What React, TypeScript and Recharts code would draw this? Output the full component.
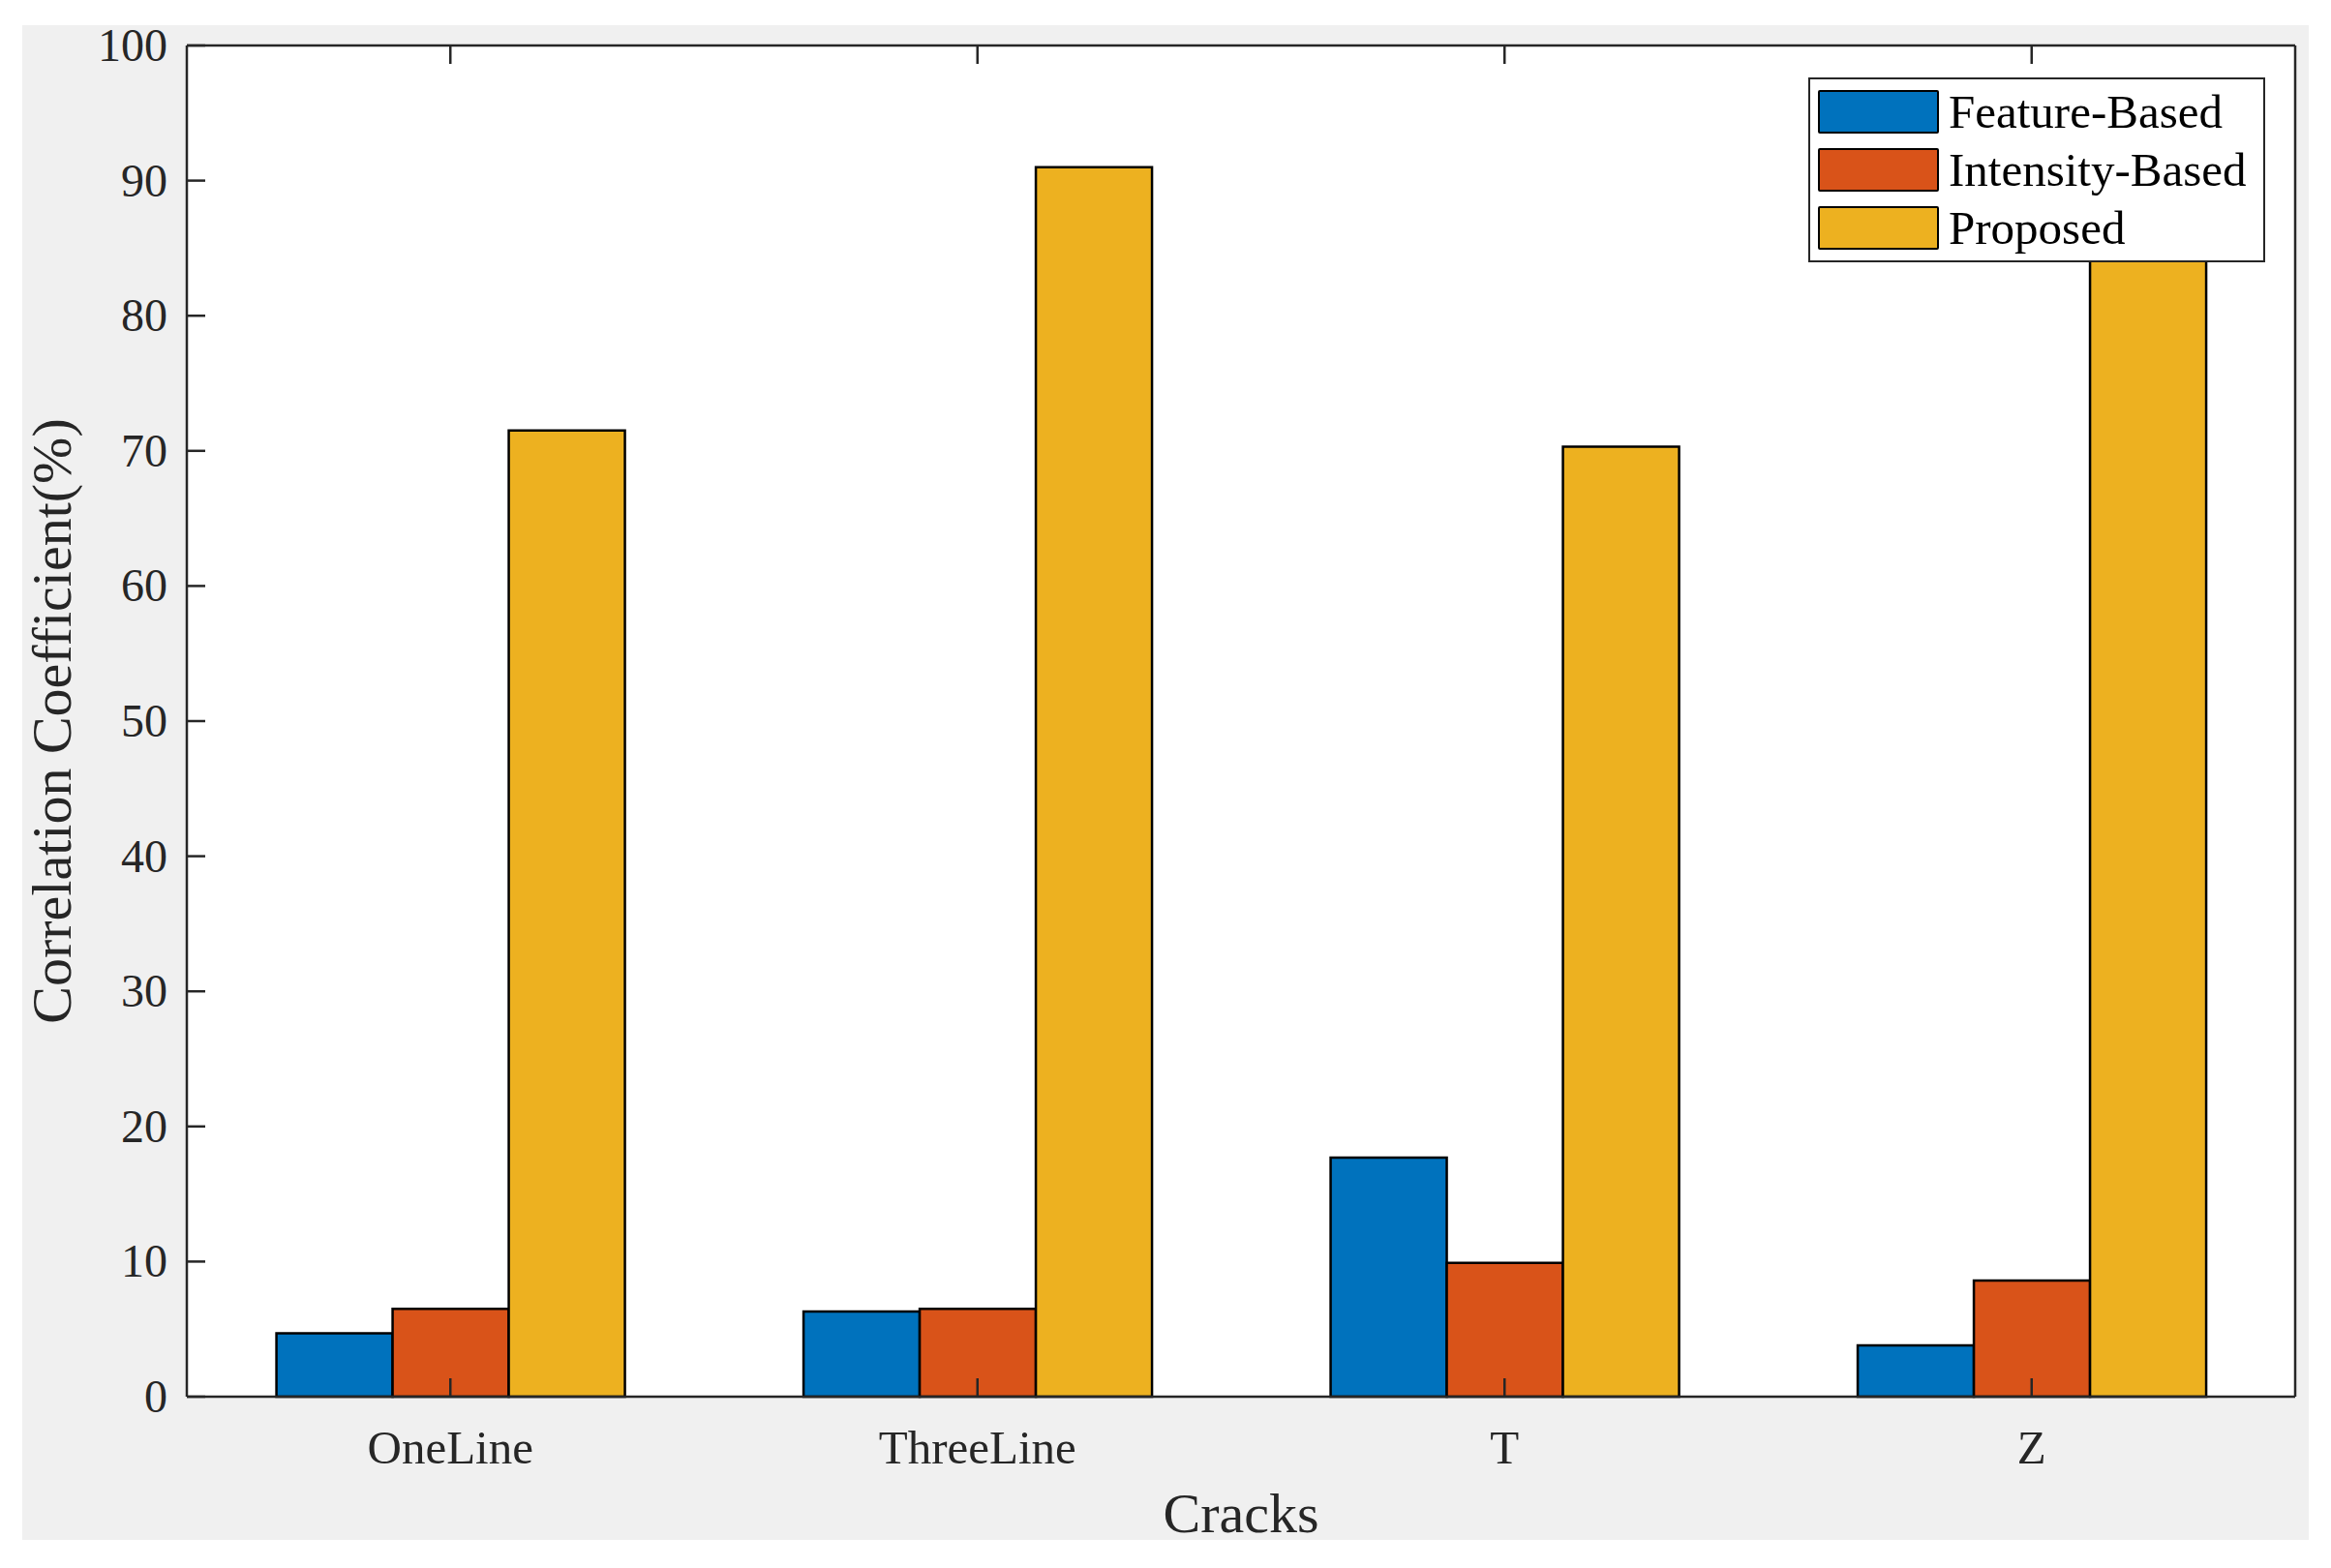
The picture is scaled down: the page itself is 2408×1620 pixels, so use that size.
import { Bar, BarChart, CartesianGrid, Legend, XAxis, YAxis } from 'recharts';

const cracks = ['OneLine', 'ThreeLine', 'T', 'Z'];
const featureBased = [4.7, 6.3, 17.7, 3.8];
const intensityBased = [6.5, 6.5, 9.9, 8.6];
const proposed = [71.5, 91.0, 70.3, 89.0];
const yTicks = [0, 10, 20, 30, 40, 50, 60, 70, 80, 90, 100];
const seriesKeys = ['featureBased', 'intensityBased', 'proposed'];
const seriesNames = ['Feature-Based', 'Intensity-Based', 'Proposed'];
const seriesColors = ['#0072BD', '#D95319', '#EDB120'];

const data = cracks.map((name, i) => ({
    name,
    featureBased: featureBased[i],
    intensityBased: intensityBased[i],
    proposed: proposed[i],
}));

const INK = '#262626';
const FONT = '"Liberation Serif", "Times New Roman", serif';
const TICK_LEN = 19;
const LINE_W = 2.5;

const BottomTick = ({ x, y, payload }: any) => (
    <g>
        <line x1={x} x2={x} y1={y} y2={y - TICK_LEN} stroke={INK} strokeWidth={LINE_W} />
        <text x={x} y={y + 69} textAnchor='middle' fontSize={49} fontFamily={FONT} fill={INK}>
            {payload.value}
        </text>
    </g>
);

const TopTick = ({ x, y }: any) => (
    <line x1={x} x2={x} y1={y} y2={y + TICK_LEN} stroke={INK} strokeWidth={LINE_W} />
);

const LeftTick = ({ x, y, payload }: any) => (
    <g>
        <line x1={x} x2={x + TICK_LEN} y1={y} y2={y} stroke={INK} strokeWidth={LINE_W} />
        <text x={x - 20} y={y + 16} textAnchor='end' fontSize={48} fontFamily={FONT} fill={INK}>
            {payload.value}
        </text>
    </g>
);

const RightTick = ({ x, y }: any) => (
    <line x1={x} x2={x - TICK_LEN} y1={y} y2={y} stroke={INK} strokeWidth={LINE_W} />
);

// axis titles, placed inside the axis box that recharts hands to the label
const XTitle = ({ viewBox }: any) => (
    <text
        x={viewBox.x + viewBox.width / 2}
        y={viewBox.y + 140}
        textAnchor='middle'
        fontSize={58}
        fontFamily={FONT}
        fill={INK}
    >
        Cracks
    </text>
);

const YTitle = ({ viewBox }: any) => {
    const cx = 73;
    const cy = viewBox.y + viewBox.height / 2;
    return (
        <text
            x={cx}
            y={cy}
            transform={`rotate(-90, ${cx}, ${cy})`}
            textAnchor='middle'
            fontSize={58}
            fontFamily={FONT}
            fill={INK}
        >
            Correlation Coefficient(%)
        </text>
    );
};

const LegendBox = () => (
    <div
        style={{
            boxSizing: 'border-box',
            width: 472,
            height: 191,
            border: `${LINE_W}px solid ${INK}`,
            background: '#ffffff',
            padding: '3px 0 3px 8px',
        }}
    >
        {seriesNames.map((name, i) => (
            <div key={name} style={{ display: 'flex', alignItems: 'center', height: 60 }}>
                <div
                    style={{
                        boxSizing: 'border-box',
                        width: 125,
                        height: 45,
                        background: seriesColors[i],
                        border: `${LINE_W}px solid #000`,
                        borderRadius: 2,
                    }}
                />
                <span
                    style={{
                        marginLeft: 10,
                        fontFamily: FONT,
                        fontSize: 49,
                        lineHeight: 1,
                        color: '#000',
                        whiteSpace: 'nowrap',
                    }}
                >
                    {name}
                </span>
            </div>
        ))}
    </div>
);

export default function App() {
    return (
        <div style={{ position: 'absolute', left: 0, top: 0, width: 2408, height: 1620, background: '#ffffff' }}>
            <div style={{ position: 'absolute', left: 23, top: 26, width: 2362, height: 1565, background: '#f0f0f0' }} />
            <div style={{ position: 'absolute', left: 0, top: 0 }}>
                <BarChart
                    width={2408}
                    height={1620}
                    data={data}
                    margin={{ top: 0, right: 0, bottom: 0, left: 0 }}
                    barCategoryGap='17%'
                    barGap={0}
                >
                    <CartesianGrid fill='#ffffff' stroke='none' horizontal={false} vertical={false} />
                    {seriesKeys.map((key, i) => (
                        <Bar
                            key={key}
                            dataKey={key}
                            name={seriesNames[i]}
                            fill={seriesColors[i]}
                            stroke='#000'
                            strokeWidth={LINE_W}
                            isAnimationActive={false}
                        />
                    ))}
                    <XAxis
                        dataKey='name'
                        height={177}
                        interval={0}
                        tickSize={0}
                        tickMargin={0}
                        tickLine={false}
                        axisLine={{ stroke: INK, strokeWidth: LINE_W }}
                        tick={<BottomTick />}
                        label={{ content: <XTitle /> }}
                    />
                    <XAxis
                        xAxisId='top'
                        dataKey='name'
                        orientation='top'
                        height={47}
                        interval={0}
                        tickSize={0}
                        tickMargin={0}
                        tickLine={false}
                        axisLine={{ stroke: INK, strokeWidth: LINE_W }}
                        tick={<TopTick />}
                    />
                    <YAxis
                        width={193}
                        domain={[0, 100]}
                        ticks={yTicks}
                        interval={0}
                        tickSize={0}
                        tickMargin={0}
                        tickLine={false}
                        axisLine={{ stroke: INK, strokeWidth: LINE_W }}
                        tick={<LeftTick />}
                        label={{ content: <YTitle /> }}
                    />
                    <YAxis
                        yAxisId='right'
                        orientation='right'
                        width={37}
                        domain={[0, 100]}
                        ticks={yTicks}
                        interval={0}
                        tickSize={0}
                        tickMargin={0}
                        tickLine={false}
                        axisLine={{ stroke: INK, strokeWidth: LINE_W }}
                        tick={<RightTick />}
                    />
                    <Legend
                        layout='vertical'
                        align='center'
                        verticalAlign='middle'
                        content={<LegendBox />}
                        wrapperStyle={{ left: 1868, top: 80, width: 472, height: 191 }}
                    />
                </BarChart>
            </div>
        </div>
    );
}
